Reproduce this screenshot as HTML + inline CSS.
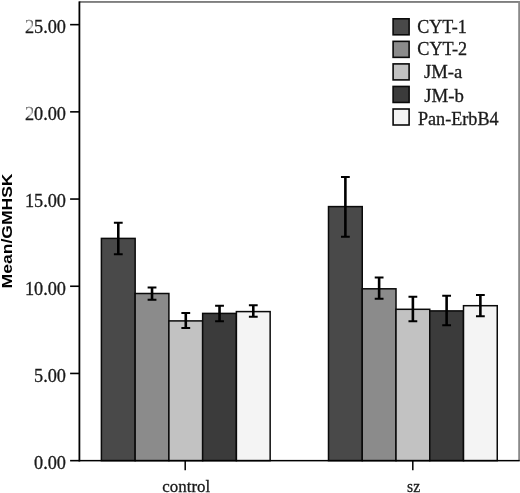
<!DOCTYPE html>
<html><head><meta charset="utf-8"><title>chart</title>
<style>
html,body{margin:0;padding:0;background:#fff;}
body{width:520px;height:493px;overflow:hidden;}
svg{display:block;}
text{font-family:"Liberation Serif",serif;fill:#1a1a1a;stroke:#1a1a1a;stroke-width:0.3px;}
.yl{font-family:"Liberation Sans",sans-serif;font-weight:bold;fill:#000;stroke:none;}
</style></head><body>
<svg width="520" height="493" viewBox="0 0 520 493">
<rect x="0" y="0" width="520" height="493" fill="#fff"/>

<rect x="79.5" y="1.1" width="440.5" height="1.7" fill="#707070"/>
<rect x="518.2" y="1.1" width="1.8" height="459.5" fill="#8a8a8a"/>
<rect x="101.40" y="238.40" width="33.75" height="222.25" fill="#494949" stroke="#0a0a0a" stroke-width="1.5"/>
<rect x="135.15" y="293.50" width="33.75" height="167.15" fill="#8b8b8b" stroke="#0a0a0a" stroke-width="1.5"/>
<rect x="168.90" y="320.90" width="33.75" height="139.75" fill="#c2c2c2" stroke="#0a0a0a" stroke-width="1.5"/>
<rect x="202.65" y="313.40" width="33.75" height="147.25" fill="#3b3b3b" stroke="#0a0a0a" stroke-width="1.5"/>
<rect x="236.40" y="311.60" width="33.75" height="149.05" fill="#f4f4f4" stroke="#0a0a0a" stroke-width="1.5"/>
<path d="M118.28 222.70V254.30" stroke="#000" stroke-width="2.6" fill="none"/>
<path d="M113.88 222.70H122.68M113.88 254.30H122.68" stroke="#000" stroke-width="2" fill="none"/>
<path d="M152.03 287.60V299.70" stroke="#000" stroke-width="2.6" fill="none"/>
<path d="M147.62 287.60H156.43M147.62 299.70H156.43" stroke="#000" stroke-width="2" fill="none"/>
<path d="M185.78 313.00V328.10" stroke="#000" stroke-width="2.6" fill="none"/>
<path d="M181.38 313.00H190.18M181.38 328.10H190.18" stroke="#000" stroke-width="2" fill="none"/>
<path d="M219.53 305.75V321.25" stroke="#000" stroke-width="2.6" fill="none"/>
<path d="M215.12 305.75H223.93M215.12 321.25H223.93" stroke="#000" stroke-width="2" fill="none"/>
<path d="M253.28 305.30V316.75" stroke="#000" stroke-width="2.6" fill="none"/>
<path d="M248.88 305.30H257.68M248.88 316.75H257.68" stroke="#000" stroke-width="2" fill="none"/>
<rect x="328.50" y="206.60" width="33.75" height="254.05" fill="#494949" stroke="#0a0a0a" stroke-width="1.5"/>
<rect x="362.25" y="288.80" width="33.75" height="171.85" fill="#8b8b8b" stroke="#0a0a0a" stroke-width="1.5"/>
<rect x="396.00" y="309.30" width="33.75" height="151.35" fill="#c2c2c2" stroke="#0a0a0a" stroke-width="1.5"/>
<rect x="429.75" y="310.90" width="33.75" height="149.75" fill="#3b3b3b" stroke="#0a0a0a" stroke-width="1.5"/>
<rect x="463.50" y="305.70" width="33.75" height="154.95" fill="#f4f4f4" stroke="#0a0a0a" stroke-width="1.5"/>
<path d="M345.38 177.10V236.75" stroke="#000" stroke-width="2.6" fill="none"/>
<path d="M340.98 177.10H349.77M340.98 236.75H349.77" stroke="#000" stroke-width="2" fill="none"/>
<path d="M379.12 277.50V298.75" stroke="#000" stroke-width="2.6" fill="none"/>
<path d="M374.73 277.50H383.52M374.73 298.75H383.52" stroke="#000" stroke-width="2" fill="none"/>
<path d="M412.88 296.75V321.25" stroke="#000" stroke-width="2.6" fill="none"/>
<path d="M408.48 296.75H417.27M408.48 321.25H417.27" stroke="#000" stroke-width="2" fill="none"/>
<path d="M446.62 295.75V325.30" stroke="#000" stroke-width="2.6" fill="none"/>
<path d="M442.23 295.75H451.02M442.23 325.30H451.02" stroke="#000" stroke-width="2" fill="none"/>
<path d="M480.38 295.00V316.25" stroke="#000" stroke-width="2.6" fill="none"/>
<path d="M475.98 295.00H484.77M475.98 316.25H484.77" stroke="#000" stroke-width="2" fill="none"/>
<rect x="78.5" y="1.4" width="1.8" height="460.0" fill="#000"/>
<rect x="78.75" y="459.9" width="441" height="1.5" fill="#000"/>
<g style="opacity:0.999">
<rect x="70.1" y="459.85" width="9.4" height="1.6" fill="#000"/>
<text transform="translate(66,469) scale(1.015,1)" font-size="18" text-anchor="end" stroke-width="0.12">0.00</text>
<rect x="70.1" y="372.65" width="9.4" height="1.6" fill="#000"/>
<text transform="translate(66,382) scale(1.015,1)" font-size="18" text-anchor="end" stroke-width="0.12">5.00</text>
<rect x="70.1" y="285.45" width="9.4" height="1.6" fill="#000"/>
<text transform="translate(66,295) scale(1.015,1)" font-size="18" text-anchor="end" stroke-width="0.12">10.00</text>
<rect x="70.1" y="198.25" width="9.4" height="1.6" fill="#000"/>
<text transform="translate(66,207) scale(1.015,1)" font-size="18" text-anchor="end" stroke-width="0.12">15.00</text>
<rect x="70.1" y="111.05" width="9.4" height="1.6" fill="#000"/>
<text transform="translate(66,120) scale(1.015,1)" font-size="18" text-anchor="end" stroke-width="0.12">20.00</text>
<rect x="70.1" y="23.85" width="9.4" height="1.6" fill="#000"/>
<text transform="translate(66,33) scale(1.015,1)" font-size="18" text-anchor="end" stroke-width="0.12">25.00</text>
<defs><radialGradient id="fd"><stop offset="0" stop-color="#fff" stop-opacity="0.92"/><stop offset="0.6" stop-color="#fff" stop-opacity="0.75"/><stop offset="1" stop-color="#fff" stop-opacity="0"/></radialGradient></defs>
<ellipse cx="29.0" cy="24.6" rx="4.4" ry="5.8" fill="url(#fd)"/>
<ellipse cx="29.0" cy="111.6" rx="4.4" ry="5.8" fill="url(#fd)"/>
<rect x="184.45" y="460.65" width="1.5" height="9.6" fill="#000"/>
<text transform="translate(186.25,492.3) scale(0.995,1)" font-size="17" text-anchor="middle">control</text>
<rect x="412.05" y="460.65" width="1.5" height="9.6" fill="#000"/>
<text transform="translate(413.6,492.3) scale(0.925,1)" font-size="17" text-anchor="middle">sz</text>
<rect x="393.1" y="18.80" width="16" height="16" fill="#494949" stroke="#0a0a0a" stroke-width="1.6"/>
<text transform="translate(417.3,33.4) scale(1.0,1)" font-size="18">CYT-1</text>
<rect x="393.1" y="41.35" width="16" height="16" fill="#8b8b8b" stroke="#0a0a0a" stroke-width="1.6"/>
<text transform="translate(417.3,54.8) scale(1.012,1)" font-size="18">CYT-2</text>
<rect x="393.1" y="63.90" width="16" height="16" fill="#c2c2c2" stroke="#0a0a0a" stroke-width="1.6"/>
<text transform="translate(424.0,77.6) scale(1.035,1)" font-size="18">JM-a</text>
<rect x="393.1" y="86.45" width="16" height="16" fill="#3b3b3b" stroke="#0a0a0a" stroke-width="1.6"/>
<text transform="translate(424.2,102) scale(1.045,1)" font-size="18">JM-b</text>
<rect x="393.1" y="109.00" width="16" height="16" fill="#f4f4f4" stroke="#0a0a0a" stroke-width="1.6"/>
<text transform="translate(417.9,124.6) scale(1.01,1)" font-size="18">Pan-ErbB4</text>
<text class="yl" transform="translate(12.3,288.4) rotate(-90)" font-size="14.8" textLength="114.9" lengthAdjust="spacingAndGlyphs">Mean/GMHSK</text>
</g>
</svg></body></html>
